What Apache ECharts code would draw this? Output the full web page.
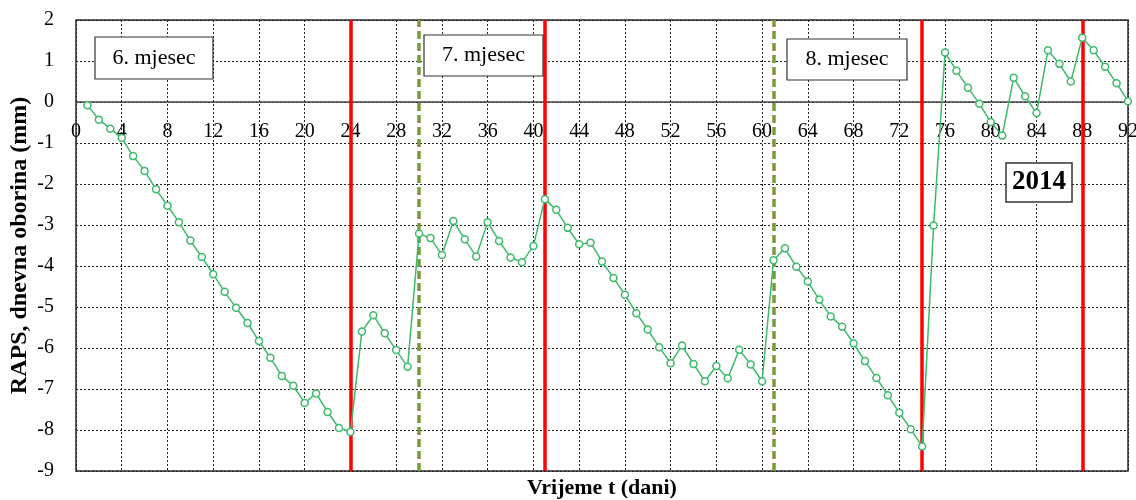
<!DOCTYPE html>
<html>
<head>
<meta charset="utf-8">
<script src="https://cdn.jsdelivr.net/npm/echarts@6/dist/echarts.min.js"></script>
<style>
html,body{margin:0;padding:0;background:#fff;}
#chart{width:1136px;height:500px;}
</style>
</head>
<body>
<div id="chart"></div>
<script>
const days = [1,2,3,4,5,6,7,8,9,10,11,12,13,14,15,16,17,18,19,20,21,22,23,24,25,26,27,28,29,30,31,32,33,34,35,36,37,38,39,40,41,42,43,44,45,46,47,48,49,50,51,52,53,54,55,56,57,58,59,60,61,62,63,64,65,66,67,68,69,70,71,72,73,74,75,76,77,78,79,80,81,82,83,84,85,86,87,88,89,90,91,92];
const raps = [-0.08,-0.43,-0.65,-0.88,-1.32,-1.68,-2.13,-2.53,-2.93,-3.38,
  -3.78,-4.20,-4.63,-5.02,-5.39,-5.83,-6.24,-6.68,-6.92,-7.34,
  -7.11,-7.56,-7.95,-8.05,-5.60,-5.20,-5.64,-6.05,-6.46,-3.21,
  -3.32,-3.73,-2.90,-3.35,-3.77,-2.93,-3.39,-3.79,-3.91,-3.51,
  -2.37,-2.63,-3.07,-3.47,-3.43,-3.89,-4.29,-4.70,-5.15,-5.55,
  -5.98,-6.37,-5.94,-6.39,-6.81,-6.44,-6.74,-6.04,-6.40,-6.81,
  -3.86,-3.57,-4.02,-4.38,-4.82,-5.23,-5.48,-5.89,-6.32,-6.73,
  -7.15,-7.58,-7.98,-8.40,-3.01,1.21,0.76,0.35,-0.04,-0.49,
  -0.82,0.59,0.14,-0.27,1.26,0.93,0.50,1.57,1.26,0.86,
  0.46,0.02];
const redLines = [24, 41, 74, 88];
const greenLines = [30, 61];
const monthLabels = ['6. mjesec', '7. mjesec', '8. mjesec'];
const yearLabel = '2014';
const xTitle = 'Vrijeme t (dani)';
const yTitle = 'RAPS, dnevna oborina (mm)';

const serif = "'Liberation Serif', 'Times New Roman', serif";
const seriesData = days.map((d, i) => [d, raps[i]]);

function box(x, y, w, h, text, font, bw) {
  return [
    {type:'rect', z:100, shape:{x:x, y:y, width:w, height:h},
     style:{fill:'#fff', stroke:'#333', lineWidth:bw}},
    {type:'text', z:101, x:x + w/2, y:y + h/2,
     style:{text:text, font:font, fill:'#000', align:'center', verticalAlign:'middle'}}
  ];
}

const chart = echarts.init(document.getElementById('chart'));
const markData = redLines.map(v => ({xAxis: v, lineStyle:{color:'#ff0000', width:3.5, type:'solid'}}))
  .concat(greenLines.map(v => ({xAxis: v, lineStyle:{color:'#7a9a3c', width:3.5, type:[8,4]}})));

const gridTop = 20, gridBottom = 29, plotH = 500 - gridTop - gridBottom;
const yMin = -9, yMax = 2;
// distance from bottom edge up to the zero line (derived from the axis range)
const zeroUp = plotH * (0 - yMin) / (yMax - yMin);

chart.setOption({
  animation: false,
  backgroundColor: '#fff',
  grid: {left:76, right:8, top:gridTop, bottom:gridBottom, show:true, borderColor:'#2a2a2a', borderWidth:1.5,
         backgroundColor:'transparent', containLabel:false, outerBoundsMode:'none'},
  xAxis: [{
    type:'value', min:0, max:92, interval:4,
    axisLine:{show:true, onZero:true, lineStyle:{color:'#444', width:1.5}},
    axisTick:{show:false},
    axisLabel:{show:false},
    splitLine:{show:true, lineStyle:{color:'#222', width:1, type:[2,2]}}
  },{
    type:'value', min:0, max:92, interval:4, position:'bottom', offset:-zeroUp,
    axisLine:{show:false, onZero:false}, axisTick:{show:false}, splitLine:{show:false},
    axisLabel:{show:true, color:'#000', fontFamily:serif, fontSize:20, margin:20, showMinLabel:true, showMaxLabel:true, hideOverlap:false}
  }],
  yAxis: {
    type:'value', min:yMin, max:yMax, interval:1,
    axisLine:{show:false, onZero:false}, axisTick:{show:false},
    axisLabel:{color:'#000', fontFamily:serif, fontSize:20, margin:22},
    splitLine:{show:true, lineStyle:{color:'#222', width:1, type:[2,2]}},
    name: yTitle, nameLocation:'middle', nameGap:44, nameRotate:90, nameMoveOverlap:false,
    nameTextStyle:{fontFamily:serif, fontSize:24, fontWeight:'bold', color:'#000'}
  },
  series: [{
    type:'line', data:[], z:1, silent:true,
    markLine:{silent:true, symbol:['none','none'], label:{show:false}, data:markData, animation:false}
  },{
    type:'line', data:seriesData, z:5, silent:true,
    symbol:'circle', symbolSize:7,
    lineStyle:{color:'#3dba6a', width:1.5},
    itemStyle:{color:'#fff', borderColor:'#3dba6a', borderWidth:1.5}
  }],
  graphic: [].concat(
    box(95, 37, 118, 42, monthLabels[0], '22px ' + serif, 1.2),
    box(424, 35, 119, 41, monthLabels[1], '22px ' + serif, 1.2),
    box(787, 39, 120, 41, monthLabels[2], '22px ' + serif, 1.2),
    box(1006, 163, 66, 39, yearLabel, 'bold 27px ' + serif, 1.5),
    [{type:'text', z:101, x:602, y:488,
      style:{text:xTitle, font:'bold 22px ' + serif, fill:'#000', align:'center', verticalAlign:'middle'}}]
  )
});
</script>
</body>
</html>
